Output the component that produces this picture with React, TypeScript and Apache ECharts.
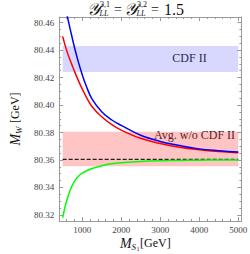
import React, { useEffect, useRef } from "react";
import * as echarts from "echarts";

const MASS = [500, 600, 700, 800, 900, 1000, 1100, 1250, 1500, 1750, 2000, 2500, 3000, 3500, 4000, 4500, 5000];
const BLUE_MW = [80.4812, 80.4672, 80.4544, 80.4423, 80.4316, 80.4222, 80.4142, 80.4045, 80.3952, 80.3893, 80.3852, 80.378, 80.3735, 80.3705, 80.3681, 80.3668, 80.3658];
const RED_MW = [80.45, 80.44, 80.432, 80.4248, 80.418, 80.4118, 80.4062, 80.399, 80.3915, 80.386, 80.3818, 80.3758, 80.372, 80.3693, 80.3675, 80.3662, 80.3653];
const GREEN_MASS = [500, 550, 600, 700, 800, 900, 1000, 1250, 1500, 1750, 2000, 2500, 3000, 3500, 4000, 4500, 5000];
const GREEN_MW = [80.318, 80.3245, 80.33, 80.3385, 80.3445, 80.348, 80.3505, 80.3538, 80.3558, 80.3572, 80.358, 80.359, 80.3595, 80.3597, 80.3599, 80.36, 80.36];
const SM_X = [500, 5000];
const SM_MW = 80.3605;
const CDF_BAND = [80.4241, 80.4429];
const AVG_BAND = [80.3555, 80.3805];
const BAND_X = [500, 5000];
const X_MAJOR = [1000, 2000, 3000, 4000, 5000];
const X_MINOR = [600, 800, 1200, 1400, 1600, 1800, 2200, 2400, 2600, 2800, 3200, 3400, 3600, 3800, 4200, 4400, 4600, 4800];
const Y_MAJOR = [80.32, 80.34, 80.36, 80.38, 80.4, 80.42, 80.44, 80.46];
const Y_MINOR = [80.325, 80.33, 80.335, 80.345, 80.35, 80.355, 80.365, 80.37, 80.375, 80.385, 80.39, 80.395, 80.405, 80.41, 80.415, 80.425, 80.43, 80.435, 80.445, 80.45, 80.455];

const SERIF = '"Liberation Serif", "DejaVu Serif", serif';
const FRAME = "#9a9a9a";
const INK = "#111";

function pairs(xs: number[], ys: number[]) {
  return xs.map((x, i) => [x, ys[i]]);
}

function xAx(position: string, values: number[], len: number, labels: boolean, line: boolean) {
  return {
    type: "value", min: 410, max: 5080, position,
    axisLine: { show: line, lineStyle: { color: FRAME, width: 1 } },
    axisTick: { show: true, inside: true, length: len, customValues: values, lineStyle: { color: FRAME, width: 1 } },
    axisLabel: labels
      ? { show: true, customValues: values, fontSize: 9, color: "#444", fontFamily: SERIF, margin: 4, formatter: (v: number) => String(Math.round(v)) }
      : { show: false },
    splitLine: { show: false },
  };
}
function yAx(position: string, values: number[], len: number, labels: boolean, line: boolean, name?: boolean) {
  const base: any = {
    type: "value", min: 80.3156, max: 80.4641, position,
    axisLine: { show: line, lineStyle: { color: FRAME, width: 1 } },
    axisTick: { show: true, inside: true, length: len, customValues: values, lineStyle: { color: FRAME, width: 1 } },
    axisLabel: labels
      ? { show: true, customValues: values, fontSize: 9, color: "#444", fontFamily: SERIF, margin: 5, formatter: (v: number) => v.toFixed(2) }
      : { show: false },
    splitLine: { show: false },
  };
  if (name) {
    base.name = "{m|M}{s|W} {n|[GeV]}";
    base.nameLocation = "middle";
    base.nameRotate = 90;
    base.nameGap = 33;
    base.nameTextStyle = {
      color: INK,
      rich: {
        m: { fontSize: 14, fontStyle: "italic", fontFamily: SERIF, color: INK },
        s: { fontSize: 9, fontStyle: "italic", fontFamily: SERIF, color: INK, padding: [7, 0, 0, 0] },
        n: { fontSize: 12, fontFamily: SERIF, color: INK },
      },
    };
  }
  return base;
}

function txt(x: number, y: number, text: string, size: number, italic = false, align = "left") {
  return {
    type: "text", x, y, silent: true,
    style: { text, fontSize: size, fontFamily: SERIF, fontStyle: italic ? "italic" : "normal", fill: INK, align, verticalAlign: "middle" },
  };
}

export default function App() {
  const ref = useRef<HTMLDivElement>(null);
  useEffect(() => {
    if (!ref.current) return;
    const chart = echarts.init(ref.current, undefined, { renderer: "svg" });
    chart.setOption({
      animation: false,
      backgroundColor: "#ffffff",
      grid: { left: 44, top: 17, right: 5, bottom: 33, containLabel: false },
      xAxis: [
        xAx("bottom", X_MAJOR, 4, true, true),
        xAx("bottom", X_MINOR, 2, false, false),
        xAx("top", X_MAJOR, 4, false, true),
        xAx("top", X_MINOR, 2, false, false),
      ],
      yAxis: [
        yAx("left", Y_MAJOR, 4, true, true, true),
        yAx("left", Y_MINOR, 2, false, false),
        yAx("right", Y_MAJOR, 4, false, true),
        yAx("right", Y_MINOR, 2, false, false),
      ],
      series: [
        {
          type: "line", data: [], xAxisIndex: 0, yAxisIndex: 0, silent: true,
          markArea: {
            silent: true,
            data: [
              [{ xAxis: BAND_X[0], yAxis: CDF_BAND[0], itemStyle: { color: "rgba(90,90,255,0.24)" } }, { xAxis: BAND_X[1], yAxis: CDF_BAND[1] }],
              [{ xAxis: BAND_X[0], yAxis: AVG_BAND[0], itemStyle: { color: "rgba(255,60,60,0.3)" } }, { xAxis: BAND_X[1], yAxis: AVG_BAND[1] }],
            ],
          },
        },
        {
          type: "line", data: SM_X.map((x) => [x, SM_MW]), symbol: "none",
          lineStyle: { color: "#222", width: 1.3, type: [4, 2] },
        },
        {
          type: "line", data: pairs(GREEN_MASS, GREEN_MW), symbol: "none", smooth: 0.4,
          lineStyle: { color: "#00ff00", width: 1.5 }, clip: true,
        },
        {
          type: "line", data: pairs(MASS, RED_MW), symbol: "none", smooth: 0.4,
          lineStyle: { color: "#ff0000", width: 1.5 }, clip: true,
        },
        {
          type: "line", data: pairs(MASS, BLUE_MW), symbol: "none", smooth: 0.4,
          lineStyle: { color: "#0000ff", width: 1.5 }, clip: true,
        },
      ],
      graphic: [
        txt(189.5, 57.5, "CDF II", 12, false, "center"),
        txt(194.5, 135, "Avg. w/o CDF II", 12, false, "center"),
        // title
        txt(87, 9.5, "𝒴", 17, true),
        txt(100, 4.5, "3,1", 8),
        txt(99.5, 13.5, "LL", 8, true),
        txt(114, 9.5, "=", 14),
        txt(124, 9.5, "𝒴", 17, true),
        txt(137, 4.5, "3,2", 8),
        txt(136.5, 13.5, "LL", 8, true),
        txt(151, 9.5, "=", 14),
        txt(164, 9.5, "1.5", 16),
        // x axis name
        txt(120, 243, "M", 14, true),
        txt(131.5, 246.5, "S", 9, true),
        txt(136.5, 249, "1", 6),
        txt(140, 243, "[GeV]", 12),
      ],
    });
    return () => chart.dispose();
  }, []);
  return <div ref={ref} style={{ position: "fixed", left: 0, top: 0, width: 250, height: 254, background: "#fff" }} />;
}
